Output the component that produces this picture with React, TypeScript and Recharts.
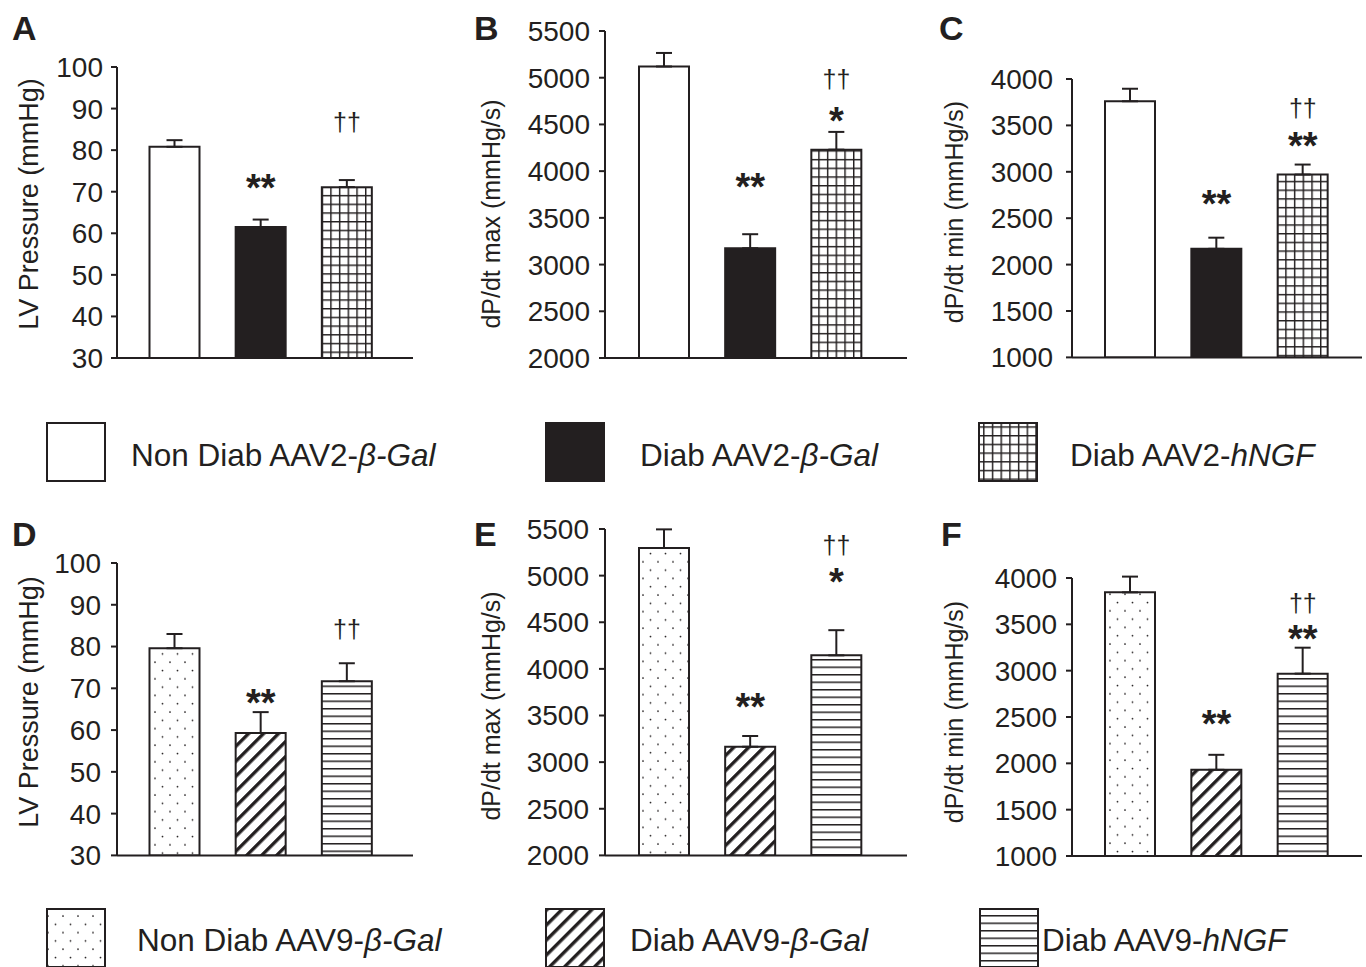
import React from "react";
import { BarChart, Bar, XAxis, YAxis, ErrorBar, Cell, ReferenceDot } from "recharts";

const INK = "#231f20";
const FONT = "'Liberation Sans', Arial, Helvetica, sans-serif";

// groups (x categories)
const groupsAAV2 = ["Non Diab AAV2-β-Gal", "Diab AAV2-β-Gal", "Diab AAV2-hNGF"];
const groupsAAV9 = ["Non Diab AAV9-β-Gal", "Diab AAV9-β-Gal", "Diab AAV9-hNGF"];

// legend text: plain part + italic part
const legendAAV2 = [["Non Diab AAV2-", "β-Gal"], ["Diab AAV2-", "β-Gal"], ["Diab AAV2-", "hNGF"]];
const legendAAV9 = [["Non Diab AAV9-", "β-Gal"], ["Diab AAV9-", "β-Gal"], ["Diab AAV9-", "hNGF"]];

// AAV2 (panels A-C): means and SEM
const lvpAAV2 = [80.8, 61.5, 71.1];
const lvpAAV2Sem = [1.6, 1.8, 1.7];
const dpMaxAAV2 = [5120, 3175, 4230];
const dpMaxAAV2Sem = [145, 150, 190];
const dpMinAAV2 = [3760, 2170, 2970];
const dpMinAAV2Sem = [135, 120, 108];

// AAV9 (panels D-F)
const lvpAAV9 = [79.6, 59.3, 71.7];
const lvpAAV9Sem = [3.4, 5.0, 4.3];
const dpMaxAAV9 = [5296, 3165, 4145];
const dpMaxAAV9Sem = [200, 115, 270];
const dpMinAAV9 = [3845, 1930, 2968];
const dpMinAAV9Sem = [170, 162, 280];

const lvpTicks = [30, 40, 50, 60, 70, 80, 90, 100];
const dpMaxTicks = [2000, 2500, 3000, 3500, 4000, 4500, 5000, 5500];
const dpMinTicks = [1000, 1500, 2000, 2500, 3000, 3500, 4000];

// significance marks: [group index, symbol, y (baseline, data units)]
const marksA = [[1, "**", 67.7], [2, "††", 84.6]];
const marksB = [[1, "**", 3691], [2, "*", 4398], [2, "††", 4891]];
const marksC = [[1, "**", 2516], [2, "**", 3141], [2, "††", 3594]];
const marksD = [[1, "**", 63.4], [2, "††", 82.1]];
const marksE = [[1, "**", 3447], [2, "*", 4788], [2, "††", 5235]];
const marksF = [[1, "**", 2289], [2, "**", 3206], [2, "††", 3637]];

const fillsAAV2 = ["#ffffff", INK, "url(#pGrid)"];
const fillsAAV9 = ["url(#pDots)", "url(#pDiag)", "url(#pHoriz)"];

// panel layout (pixel frame of each plot)
const layoutA = { axisX: 117, top: 67, bottom: 358, right: 413, padL: 14.5, padR: 23, tickMargin: 8 };
const layoutB = { axisX: 605, top: 31, bottom: 358, right: 907, padL: 16, padR: 27.5, tickMargin: 9 };
const layoutC = { axisX: 1072, top: 79.3, bottom: 357.7, right: 1362, padL: 15, padR: 16, tickMargin: 13 };
const layoutD = { axisX: 117, top: 563.3, bottom: 855.7, right: 413, padL: 14.5, padR: 23, tickMargin: 10 };
const layoutE = { axisX: 605, top: 529.3, bottom: 855.7, right: 907, padL: 16, padR: 27.5, tickMargin: 10 };
const layoutF = { axisX: 1072, top: 577.7, bottom: 855.7, right: 1362, padL: 15, padR: 16, tickMargin: 9 };

function Panel({ p, groups, values, sem, ticks, fills, marks }: any) {
  const data = groups.map((g: string, i: number) => ({ group: g, value: values[i], err: [0, sem[i]] }));
  const yw = 100;
  const plotW = p.right - p.axisX;
  const plotH = p.bottom - p.top;
  return (
    <div style={{ position: "absolute", left: p.axisX - yw, top: p.top - 20 }}>
      <BarChart
        width={yw + plotW + 4}
        height={plotH + 50}
        data={data}
        margin={{ top: 20, right: 4, bottom: 29, left: 0 }}
        barSize={50}
      >
        <XAxis
          dataKey="group"
          height={1}
          tick={false}
          tickLine={false}
          axisLine={{ stroke: INK, strokeWidth: 2 }}
          padding={{ left: p.padL, right: p.padR }}
        />
        <YAxis
          type="number"
          width={yw}
          domain={[ticks[0], ticks[ticks.length - 1]]}
          ticks={ticks}
          interval={0}
          allowDataOverflow
          tickSize={6}
          tickMargin={p.tickMargin}
          axisLine={{ stroke: INK, strokeWidth: 2 }}
          tickLine={{ stroke: INK, strokeWidth: 2 }}
          tick={{ fill: INK, fontSize: 28, fontFamily: FONT }}
        />
        <Bar dataKey="value" stroke={INK} strokeWidth={2} isAnimationActive={false}>
          {data.map((_d: any, i: number) => (
            <Cell key={i} fill={fills[i]} />
          ))}
          <ErrorBar dataKey="err" direction="y" width={8} stroke={INK} strokeWidth={2} isAnimationActive={false} />
        </Bar>
        {marks.map(([gi, sym, y]: any, k: number) => (
          <ReferenceDot
            key={k}
            x={groups[gi]}
            y={y}
            r={0}
            ifOverflow="visible"
            shape={(s: any) => (
              <text
                x={s.cx}
                y={s.cy}
                textAnchor="middle"
                fill={INK}
                fontFamily={FONT}
                fontSize={sym === "††" ? 25 : 38}
                fontWeight={sym === "††" ? "normal" : "bold"}
              >
                {sym}
              </text>
            )}
          />
        ))}
      </BarChart>
    </div>
  );
}

function LegendRow({ y, boxX, textX, baseline, items, fills }: any) {
  return (
    <g>
      {items.map((it: string[], i: number) => (
        <g key={i}>
          <rect x={boxX[i]} y={y} width={58} height={58} fill={fills[i]} stroke={INK} strokeWidth={2} />
          <text x={textX[i]} y={baseline} fontSize={31.5} fill={INK} fontFamily={FONT}>
            {it[0]}
            <tspan fontStyle="italic">{it[1]}</tspan>
          </text>
        </g>
      ))}
    </g>
  );
}

export default function App() {
  const axisLabel = (x: number, y: number, text: string, size: number) => (
    <text
      transform={`translate(${x},${y}) rotate(-90)`}
      textAnchor="middle"
      dominantBaseline="central"
      fontSize={size}
      fill={INK}
      fontFamily={FONT}
    >
      {text}
    </text>
  );
  const letter = (x: number, y: number, t: string) => (
    <text x={x} y={y} fontSize={34} fontWeight="bold" fill={INK} fontFamily={FONT}>
      {t}
    </text>
  );
  return (
    <div style={{ position: "absolute", left: 0, top: 0, width: 1366, height: 967, background: "#fff", overflow: "hidden" }}>
      <svg width={1366} height={967} style={{ position: "absolute", left: 0, top: 0 }}>
        <defs>
          <pattern id="pGrid" width="8.7" height="8.7" patternUnits="userSpaceOnUse">
            <rect width="8.7" height="8.7" fill="#fff" />
            <path d="M0 0.7H8.7M0.7 0V8.7" stroke={INK} strokeWidth="1.5" />
          </pattern>
          <pattern id="pDots" width="15" height="16.6" patternUnits="userSpaceOnUse">
            <rect width="15" height="16.6" fill="#fff" />
            <circle cx="3" cy="3" r="0.9" fill={INK} />
            <circle cx="10.5" cy="11.3" r="0.9" fill={INK} />
          </pattern>
          <pattern id="pDiag" width="10.6" height="10.6" patternUnits="userSpaceOnUse" patternTransform="rotate(45)">
            <rect width="10.6" height="10.6" fill="#fff" />
            <rect width="3.4" height="10.6" fill={INK} />
          </pattern>
          <pattern id="pHoriz" width="10" height="7.5" patternUnits="userSpaceOnUse">
            <rect width="10" height="7.5" fill="#fff" />
            <rect y="0" width="10" height="1.5" fill={INK} />
          </pattern>
        </defs>
        {letter(12, 40, "A")}
        {letter(474, 40, "B")}
        {letter(939, 40, "C")}
        {letter(12, 546, "D")}
        {letter(474, 546, "E")}
        {letter(941, 546, "F")}
        {axisLabel(29, 204, "LV Pressure (mmHg)", 27)}
        {axisLabel(491, 214, "dP/dt max (mmHg/s)", 25)}
        {axisLabel(954, 212, "dP/dt min (mmHg/s)", 25)}
        {axisLabel(29, 702, "LV Pressure (mmHg)", 27)}
        {axisLabel(491, 706, "dP/dt max (mmHg/s)", 25)}
        {axisLabel(954, 712, "dP/dt min (mmHg/s)", 25)}
        <LegendRow y={423} boxX={[47, 546, 979]} textX={[131, 640, 1070]} baseline={466} items={legendAAV2} fills={fillsAAV2} />
        <LegendRow y={909} boxX={[47, 546, 980]} textX={[137, 630, 1042]} baseline={951} items={legendAAV9} fills={fillsAAV9} />
      </svg>
      <Panel p={layoutA} groups={groupsAAV2} values={lvpAAV2} sem={lvpAAV2Sem} ticks={lvpTicks} fills={fillsAAV2} marks={marksA} />
      <Panel p={layoutB} groups={groupsAAV2} values={dpMaxAAV2} sem={dpMaxAAV2Sem} ticks={dpMaxTicks} fills={fillsAAV2} marks={marksB} />
      <Panel p={layoutC} groups={groupsAAV2} values={dpMinAAV2} sem={dpMinAAV2Sem} ticks={dpMinTicks} fills={fillsAAV2} marks={marksC} />
      <Panel p={layoutD} groups={groupsAAV9} values={lvpAAV9} sem={lvpAAV9Sem} ticks={lvpTicks} fills={fillsAAV9} marks={marksD} />
      <Panel p={layoutE} groups={groupsAAV9} values={dpMaxAAV9} sem={dpMaxAAV9Sem} ticks={dpMaxTicks} fills={fillsAAV9} marks={marksE} />
      <Panel p={layoutF} groups={groupsAAV9} values={dpMinAAV9} sem={dpMinAAV9Sem} ticks={dpMinTicks} fills={fillsAAV9} marks={marksF} />
    </div>
  );
}
